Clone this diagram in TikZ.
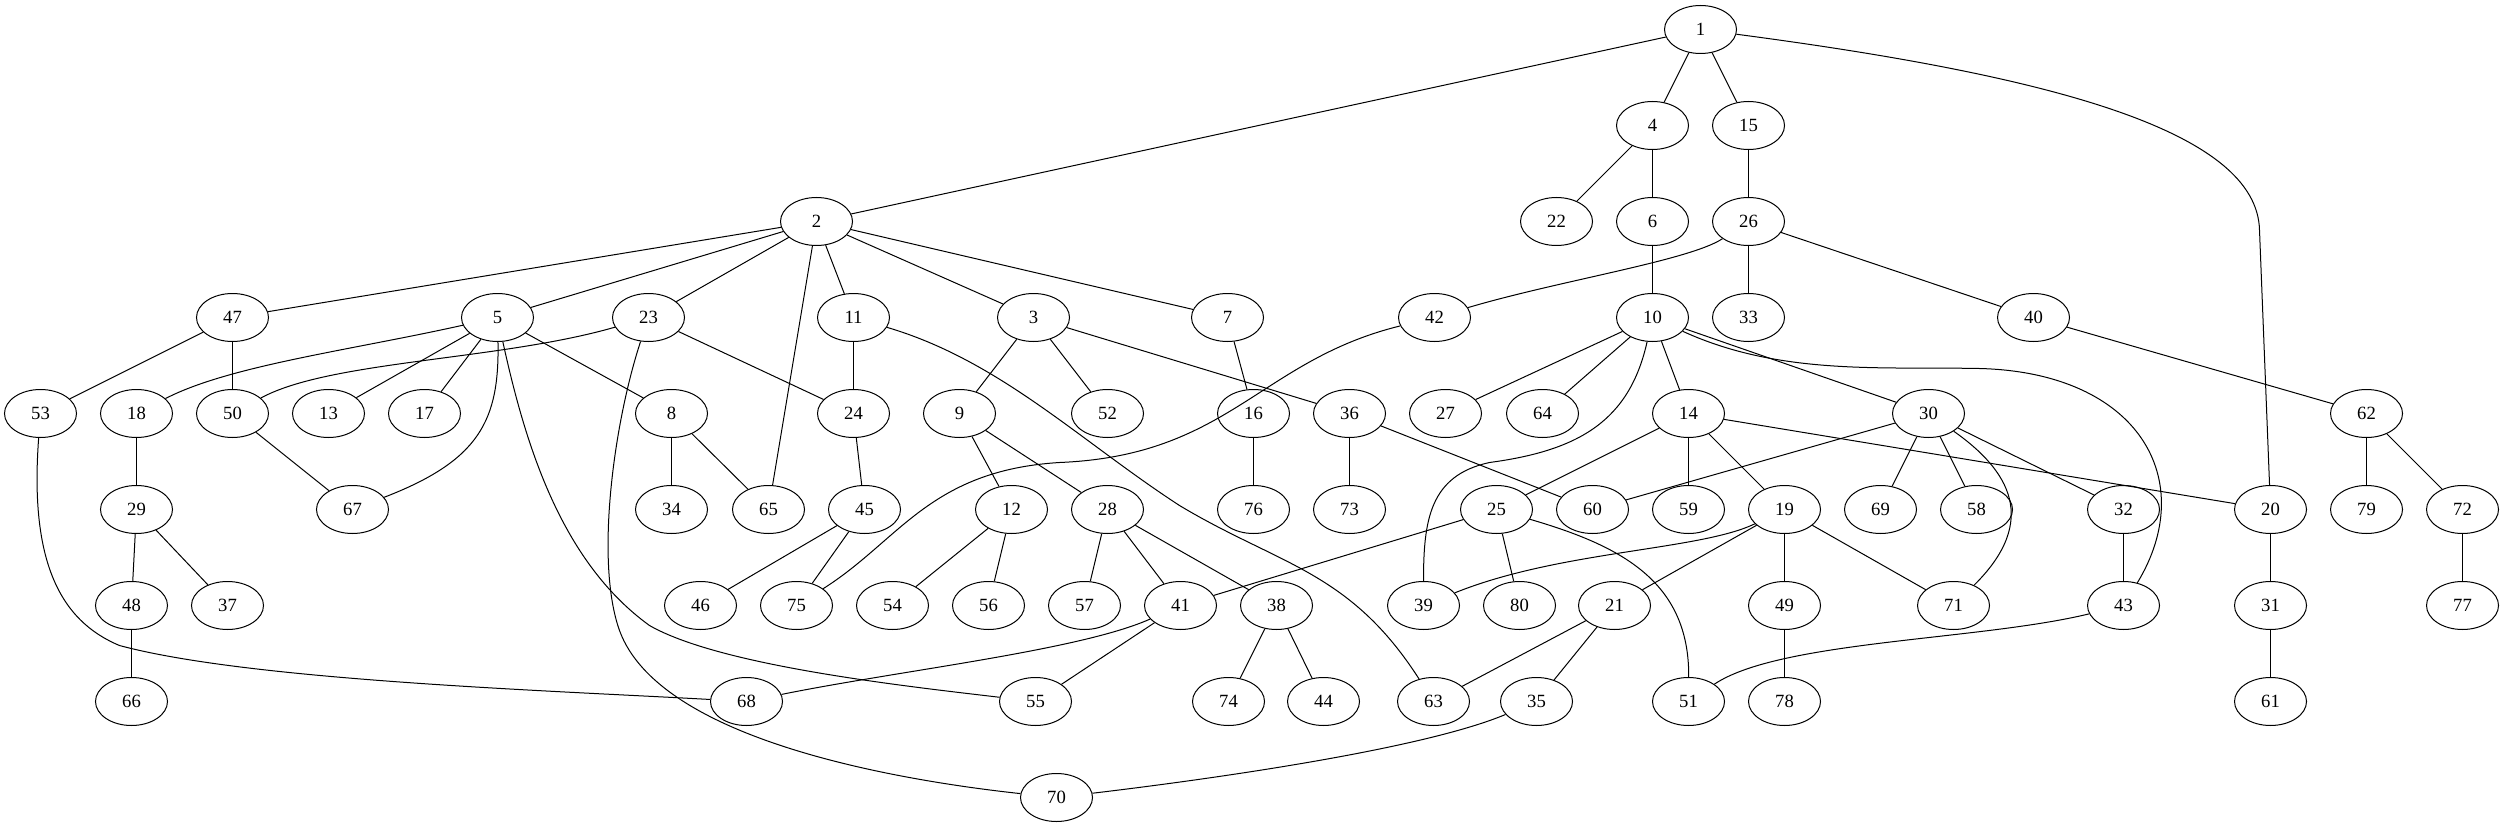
\documentclass[tikz,border=0pt]{standalone}
\usepackage{fontspec}
\setmainfont{Liberation Serif}
\usetikzlibrary{shapes.geometric}
\begin{document}
\begin{tikzpicture}[x=0.75pt,y=-0.75pt,
  vtx/.style={draw,ellipse,line width=0.75pt,minimum width=54pt,minimum height=36pt,inner sep=0pt,font=\fontsize{14}{16}\selectfont},
  every path/.style={line width=0.75pt}]
\useasboundingbox (0,0) rectangle (2504,827);
\begin{scope}[shift={(-0.5,0.5)}]
% rank 0
\node[vtx] (n1) at (1701,29) {1};
% rank 1
\node[vtx] (n4) at (1653,125) {4};
\node[vtx] (n15) at (1749,125) {15};
% rank 2
\node[vtx] (n2) at (817,221) {2};
\node[vtx] (n22) at (1557,221) {22};
\node[vtx] (n6) at (1653,221) {6};
\node[vtx] (n26) at (1749,221) {26};
% rank 3
\node[vtx] (n47) at (233,317) {47};
\node[vtx] (n5) at (498,317) {5};
\node[vtx] (n23) at (649,317) {23};
\node[vtx] (n11) at (854,317) {11};
\node[vtx] (n3) at (1034,317) {3};
\node[vtx] (n7) at (1228,317) {7};
\node[vtx] (n42) at (1435,317) {42};
\node[vtx] (n10) at (1653,317) {10};
\node[vtx] (n33) at (1749,317) {33};
\node[vtx] (n40) at (2034,317) {40};
% rank 4
\node[vtx] (n53) at (41,413) {53};
\node[vtx] (n18) at (137,413) {18};
\node[vtx] (n50) at (233,413) {50};
\node[vtx] (n13) at (329,413) {13};
\node[vtx] (n17) at (425,413) {17};
\node[vtx] (n8) at (672,413) {8};
\node[vtx] (n24) at (854,413) {24};
\node[vtx] (n9) at (960,413) {9};
\node[vtx] (n52) at (1108,413) {52};
\node[vtx] (n16) at (1254,413) {16};
\node[vtx] (n36) at (1350,413) {36};
\node[vtx] (n27) at (1446,413) {27};
\node[vtx] (n64) at (1543,413) {64};
\node[vtx] (n14) at (1689,413) {14};
\node[vtx] (n30) at (1929,413) {30};
\node[vtx] (n62) at (2367,413) {62};
% rank 5
\node[vtx] (n29) at (137,509) {29};
\node[vtx] (n67) at (353,509) {67};
\node[vtx] (n34) at (672,509) {34};
\node[vtx] (n65) at (769,509) {65};
\node[vtx] (n45) at (865,509) {45};
\node[vtx] (n12) at (1012,509) {12};
\node[vtx] (n28) at (1108,509) {28};
\node[vtx] (n76) at (1254,509) {76};
\node[vtx] (n73) at (1350,509) {73};
\node[vtx] (n25) at (1497,509) {25};
\node[vtx] (n60) at (1593,509) {60};
\node[vtx] (n59) at (1689,509) {59};
\node[vtx] (n19) at (1785,509) {19};
\node[vtx] (n69) at (1881,509) {69};
\node[vtx] (n58) at (1977,509) {58};
\node[vtx] (n32) at (2124,509) {32};
\node[vtx] (n20) at (2271,509) {20};
\node[vtx] (n79) at (2367,509) {79};
\node[vtx] (n72) at (2463,509) {72};
% rank 6
\node[vtx] (n48) at (132,605) {48};
\node[vtx] (n37) at (228,605) {37};
\node[vtx] (n46) at (701,605) {46};
\node[vtx] (n75) at (797,605) {75};
\node[vtx] (n54) at (893,605) {54};
\node[vtx] (n56) at (989,605) {56};
\node[vtx] (n57) at (1085,605) {57};
\node[vtx] (n41) at (1181,605) {41};
\node[vtx] (n38) at (1277,605) {38};
\node[vtx] (n39) at (1424,605) {39};
\node[vtx] (n80) at (1520,605) {80};
\node[vtx] (n21) at (1615,605) {21};
\node[vtx] (n49) at (1785,605) {49};
\node[vtx] (n71) at (1954,605) {71};
\node[vtx] (n43) at (2124,605) {43};
\node[vtx] (n31) at (2271,605) {31};
\node[vtx] (n77) at (2463,605) {77};
% rank 7
\node[vtx] (n66) at (132,701) {66};
\node[vtx] (n68) at (747,701) {68};
\node[vtx] (n55) at (1036,701) {55};
\node[vtx] (n74) at (1229,701) {74};
\node[vtx] (n44) at (1324,701) {44};
\node[vtx] (n63) at (1434,701) {63};
\node[vtx] (n35) at (1537,701) {35};
\node[vtx] (n51) at (1689,701) {51};
\node[vtx] (n78) at (1785,701) {78};
\node[vtx] (n61) at (2271,701) {61};
% rank 8
\node[vtx] (n70) at (1057,797) {70};

% straight edges
\foreach \a/\b in {1/2,1/4,1/15,4/22,4/6,15/26,6/10,26/33,26/40,
  2/47,2/5,2/23,2/65,2/11,2/3,2/7,47/53,47/50,5/13,5/17,5/8,
  23/24,11/24,3/9,3/52,3/36,7/16,10/27,10/64,10/14,10/30,40/62,
  18/29,50/67,8/34,8/65,24/45,9/12,9/28,16/76,36/73,36/60,
  14/25,14/59,14/19,14/20,30/60,30/69,30/58,30/32,62/79,62/72,
  29/48,29/37,45/46,45/75,12/54,12/56,28/57,28/41,28/38,25/41,25/80,
  19/21,19/49,19/71,32/43,20/31,72/77,48/66,41/55,38/74,38/44,
  21/63,21/35,49/78,31/61}
  \draw (n\a) -- (n\b);

% curved edges
\draw (n1) .. controls (2050,75) and (2258,130) .. (2260,230) -- (n20);
\draw (n26) .. controls (1690,260) and (1560,280) .. (n42);
\draw (n42) .. controls (1260,360) and (1230,455) .. (1060,462) .. controls (930,470) and (900,540) .. (n75);
\draw (n10) .. controls (1630,420) and (1580,450) .. (1490,462) .. controls (1430,475) and (1424,520) .. (n39);
\draw (n10) .. controls (1780,375) and (1880,366) .. (1980,368) .. controls (2140,372) and (2200,480) .. (n43);
\draw (n30) .. controls (2010,470) and (2040,520) .. (n71);
\draw (n11) .. controls (1000,360) and (1080,440) .. (1180,505) .. controls (1280,565) and (1350,570) .. (n63);
\draw (n5) .. controls (350,350) and (230,365) .. (n18);
\draw (n23) .. controls (500,360) and (330,360) .. (n50);
\draw (n5) .. controls (500,420) and (480,460) .. (n67);
\draw (n5) .. controls (525,440) and (560,560) .. (650,625) .. controls (720,665) and (900,685) .. (n55);
\draw (n23) .. controls (615,420) and (595,560) .. (620,630) .. controls (660,740) and (900,780) .. (n70);
\draw (n53) .. controls (30,560) and (60,620) .. (120,645) .. controls (250,680) and (550,690) .. (n68);
\draw (n41) .. controls (1080,650) and (900,670) .. (n68);
\draw (n25) .. controls (1620,545) and (1690,580) .. (n51);
\draw (n19) .. controls (1700,550) and (1560,550) .. (n39);
\draw (n43) .. controls (1980,640) and (1780,640) .. (n51);
\draw (n35) .. controls (1420,750) and (1200,780) .. (n70);
\end{scope}
\end{tikzpicture}
\end{document}
